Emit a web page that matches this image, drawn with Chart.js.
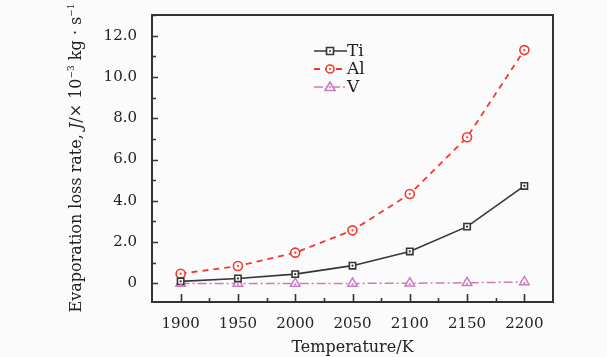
<!DOCTYPE html>
<html>
<head>
<meta charset="utf-8">
<script src="https://cdn.jsdelivr.net/npm/chart.js@4/dist/chart.umd.min.js"></script>
<style>
    html, body { margin: 0; padding: 0; background: #fbfbfb; }
    #wrap { width: 607px; height: 357px; }
</style>
</head>
<body>
<div id="wrap"><canvas id="chart" width="607" height="357"></canvas></div>
<script>
const temperatures = [1900, 1950, 2000, 2050, 2100, 2150, 2200];
const tiValues = [0.10, 0.24, 0.45, 0.86, 1.55, 2.75, 4.72];
const alValues = [0.47, 0.84, 1.49, 2.57, 4.33, 7.08, 11.30];
const vValues = [0.00, 0.00, 0.00, 0.00, 0.01, 0.03, 0.07];
const seriesNames = ['Ti', 'Al', 'V'];
const yTickValues = [0, 2, 4, 6, 8, 10, 12];
const xTickValues = [1900, 1950, 2000, 2050, 2100, 2150, 2200];

const serif = "'DejaVu Serif', 'Liberation Serif', serif";
const colors = { Ti: '#363636', Al: '#f2392c', V: '#c97cc2' };

function toPoints(values) {
    return temperatures.map((t, i) => ({ x: t, y: values[i] }));
}

// frame, inward ticks, centre dots, legend and y title
const decorPlugin = {
    id: 'decor',
    afterDatasetsDraw(chart) {
        const ctx = chart.ctx;
        chart.data.datasets.forEach((ds, di) => {
            const meta = chart.getDatasetMeta(di);
            ctx.save();
            ctx.fillStyle = ds.borderColor;
            meta.data.forEach(pt => {
                ctx.beginPath();
                ctx.arc(pt.x, di === 2 ? pt.y + 1 : pt.y, 1.1, 0, Math.PI * 2);
                ctx.fill();
            });
            ctx.restore();
        });
    },
    afterDraw(chart) {
        const ctx = chart.ctx;
        const a = chart.chartArea;
        const xs = chart.scales.x, ys = chart.scales.y;
        ctx.save();
        ctx.strokeStyle = '#333';
        ctx.lineWidth = 2;
        ctx.strokeRect(a.left, a.top, a.right - a.left, a.bottom - a.top);

        ctx.lineWidth = 1.6;
        ctx.beginPath();
        for (let v = 0; v <= 13; v += 1) {
            const y = Math.round(ys.getPixelForValue(v)) + 0.5;
            const len = v % 2 === 0 ? 6 : 4;
            ctx.moveTo(a.left, y);
            ctx.lineTo(a.left + len, y);
        }
        for (let t = 1900; t <= 2200; t += 25) {
            const x = Math.round(xs.getPixelForValue(t)) + 0.5;
            const len = t % 50 === 0 ? 8 : 4;
            ctx.moveTo(x, a.bottom);
            ctx.lineTo(x, a.bottom - len);
        }
        ctx.stroke();

        // legend
        const lx = 314, ly = 51, gap = 18;
        chart.data.datasets.forEach((ds, i) => {
            const y = ly + i * gap;
            ctx.strokeStyle = ds.borderColor;
            ctx.lineWidth = ds.borderWidth;
            ctx.setLineDash(ds.borderDash || []);
            ctx.beginPath();
            ctx.moveTo(lx, y);
            ctx.lineTo(lx + 33, y);
            ctx.stroke();
            ctx.setLineDash([]);
            ctx.fillStyle = '#fbfbfb';
            ctx.lineWidth = 1.6;
            const cx = lx + 16;
            ctx.beginPath();
            if (ds.pointStyle === 'rect') {
                ctx.rect(cx - 3.5, y - 3.5, 7, 7);
            } else if (ds.pointStyle === 'circle') {
                ctx.arc(cx, y, 4, 0, Math.PI * 2);
            } else {
                ctx.moveTo(cx, y - 5);
                ctx.lineTo(cx + 5, y + 3.5);
                ctx.lineTo(cx - 5, y + 3.5);
                ctx.closePath();
            }
            ctx.fill();
            ctx.stroke();
            ctx.fillStyle = ds.borderColor;
            ctx.beginPath();
            ctx.arc(cx, y, 1, 0, Math.PI * 2);
            ctx.fill();
            ctx.fillStyle = '#222';
            ctx.font = '17px ' + serif;
            ctx.textAlign = 'left';
            ctx.textBaseline = 'middle';
            ctx.fillText(ds.label, lx + 33, y + 1);
        });

        // y axis title with italic J and superscripts
        ctx.translate(76, 158);
        ctx.rotate(-Math.PI / 2);
        ctx.fillStyle = '#222';
        ctx.textBaseline = 'alphabetic';
        const parts = [
            { t: 'Evaporation loss rate, ', f: '16px ' + serif, dy: 0 },
            { t: 'J', f: 'italic 16px ' + serif, dy: 0 },
            { t: '/\u00d7 10', f: '16px ' + serif, dy: 0 },
            { t: '\u22123', f: '9px ' + serif, dy: -7 },
            { t: ' kg \u00b7 s', f: '16px ' + serif, dy: 0 },
            { t: '\u22121', f: '9px ' + serif, dy: -7 }
        ];
        let total = 0;
        parts.forEach(p => { ctx.font = p.f; total += ctx.measureText(p.t).width; });
        let x0 = -total / 2;
        parts.forEach(p => {
            ctx.font = p.f;
            ctx.fillText(p.t, x0, 5 + p.dy);
            x0 += ctx.measureText(p.t).width;
        });
        ctx.restore();
    }
};

new Chart(document.getElementById('chart'), {
    type: 'line',
    data: {
        datasets: [
            {
                label: seriesNames[0],
                data: toPoints(tiValues),
                borderColor: colors.Ti,
                borderWidth: 1.6,
                pointStyle: 'rect',
                pointRadius: 4.5,
                pointBorderWidth: 1.6,
                pointBackgroundColor: '#fbfbfb',
                pointBorderColor: colors.Ti
            },
            {
                label: seriesNames[1],
                data: toPoints(alValues),
                borderColor: colors.Al,
                borderWidth: 1.8,
                borderDash: [6, 5],
                pointStyle: 'circle',
                pointRadius: 4.5,
                pointBorderWidth: 1.6,
                pointBackgroundColor: '#fbfbfb',
                pointBorderColor: colors.Al
            },
            {
                label: seriesNames[2],
                data: toPoints(vValues),
                borderColor: colors.V,
                borderWidth: 1.5,
                borderDash: [9, 3, 2, 3],
                pointStyle: 'triangle',
                pointRadius: 5.5,
                pointBorderWidth: 1.5,
                pointBackgroundColor: '#fbfbfb',
                pointBorderColor: colors.V
            }
        ]
    },
    options: {
        responsive: false,
        animation: false,
        layout: { padding: { top: 15, right: 54, left: 0, bottom: 0 } },
        plugins: { legend: { display: false }, tooltip: { enabled: false } },
        scales: {
            x: {
                type: 'linear',
                min: 1875,
                max: 2225,
                afterBuildTicks(scale) {
                    scale.ticks = xTickValues.map(v => ({ value: v }));
                },
                afterFit(scale) {
                    scale.height = 55;
                    scale.paddingLeft = 0;
                    scale.paddingRight = 0;
                },
                grid: { display: false, drawTicks: false },
                border: { display: false },
                ticks: {
                    padding: 13,
                    color: '#222',
                    font: { family: serif, size: 15 },
                    callback: v => String(v)
                },
                title: {
                    display: true,
                    text: 'Temperature/K',
                    color: '#222',
                    font: { family: serif, size: 16 },
                    padding: { top: 0, bottom: 0 }
                }
            },
            y: {
                min: -0.9,
                max: 13,
                afterBuildTicks(scale) {
                    scale.ticks = yTickValues.map(v => ({ value: v }));
                },
                afterFit(scale) {
                    scale.width = 152;
                    scale.paddingTop = 0;
                    scale.paddingBottom = 0;
                },
                grid: { display: false, drawTicks: false },
                border: { display: false },
                ticks: {
                    padding: 15,
                    color: '#222',
                    font: { family: serif, size: 15 },
                    callback: v => v === 0 ? '0' : v.toFixed(1)
                }
            }
        }
    },
    plugins: [decorPlugin]
});
</script>
</body>
</html>
